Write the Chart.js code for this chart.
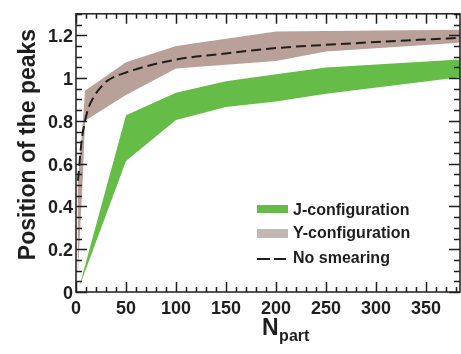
<!DOCTYPE html>
<html>
<head>
<meta charset="utf-8">
<script src="https://cdn.jsdelivr.net/npm/chart.js@4.4.1/dist/chart.umd.min.js"></script>
<style>
  html, body { margin: 0; padding: 0; background: #fff; }
  #wrap { width: 461px; height: 354px; }
</style>
</head>
<body>
<div id="wrap"><canvas id="c" width="461" height="354"></canvas></div>
<script>
// ---- data ----
const yCfgX     = [1.5, 7, 9, 50, 100, 200, 250, 384];
const yCfgUpper = [0.50, 0.80, 0.94, 1.074, 1.149, 1.217, 1.22, 1.225];
const yCfgLower = [0.05, 0.55, 0.80, 0.921, 1.044, 1.079, 1.124, 1.165];

const jCfgX     = [3, 50, 100, 150, 200, 250, 384];
const jCfgUpper = [0.02, 0.826, 0.931, 0.985, 1.017, 1.049, 1.086];
const jCfgLower = [0.02, 0.612, 0.804, 0.865, 0.89, 0.926, 1.004];

const noSmearX = [2, 5, 7, 12, 19, 25, 32, 50, 100, 150, 200, 250, 300, 384];
const noSmearY = [0.52, 0.68, 0.75, 0.853, 0.921, 0.958, 0.989, 1.026, 1.086, 1.115, 1.14, 1.155, 1.168, 1.188];

const xTickLabels = [0, 50, 100, 150, 200, 250, 300, 350];
const yTickLabels = [0, 0.2, 0.4, 0.6, 0.8, 1, 1.2];

const legendLabels = ['J-configuration', 'Y-configuration', 'No smearing'];
const xTitleMain = 'N';
const xTitleSub = 'part';
const yTitle = 'Position of the peaks';

const GREEN = '#65bc46';
const BROWN = '#b9a19a';
const BROWN_LEG = '#c3b7b1';
const INK = '#1e1e1e';
const FONT = "'Liberation Sans', Arial, Helvetica, sans-serif";

const pts = (xs, ys) => xs.map((x, i) => ({ x: x, y: ys[i] }));

const framePlugin = {
  id: 'frame',
  afterDraw(chart) {
    const ctx = chart.ctx;
    const a = chart.chartArea;
    const xs = chart.scales.x, ys = chart.scales.y;
    ctx.save();
    ctx.strokeStyle = INK;
    ctx.lineWidth = 1.5;
    ctx.strokeRect(a.left, a.top, a.right - a.left, a.bottom - a.top);
    ctx.beginPath();
    for (let v = 0; v <= xs.max + 0.001; v += 10) {
      const px = Math.round(xs.getPixelForValue(v)) + 0.5;
      const len = (v % 50 === 0) ? 10 : 5;
      ctx.moveTo(px, a.bottom); ctx.lineTo(px, a.bottom - len);
      ctx.moveTo(px, a.top); ctx.lineTo(px, a.top + len);
    }
    for (let k = 0; k * 0.05 <= ys.max + 0.0001; k++) {
      const v = k * 0.05;
      const py = Math.round(ys.getPixelForValue(v)) + 0.5;
      const len = (k % 4 === 0) ? 11 : 6;
      ctx.moveTo(a.left, py); ctx.lineTo(a.left + len, py);
      ctx.moveTo(a.right, py); ctx.lineTo(a.right - len, py);
    }
    ctx.stroke();

    // legend
    ctx.fillStyle = GREEN;
    ctx.fillRect(257, 205, 31, 8);
    ctx.fillStyle = BROWN_LEG;
    ctx.fillRect(257, 229, 31, 9);
    ctx.strokeStyle = INK;
    ctx.lineWidth = 2;
    ctx.beginPath();
    ctx.moveTo(257, 259); ctx.lineTo(270, 259);
    ctx.moveTo(274, 259); ctx.lineTo(286, 259);
    ctx.stroke();
    ctx.fillStyle = INK;
    ctx.font = 'bold 16px ' + FONT;
    ctx.textAlign = 'left';
    ctx.textBaseline = 'middle';
    ctx.fillText(legendLabels[0], 293, 211);
    ctx.fillText(legendLabels[1], 293, 234);
    ctx.fillText(legendLabels[2], 293, 259);

    // axis titles
    ctx.textBaseline = 'alphabetic';
    ctx.font = 'bold 23px ' + FONT;
    ctx.fillText(xTitleMain, 262, 335);
    const wN = ctx.measureText(xTitleMain).width;
    ctx.font = 'bold 16px ' + FONT;
    ctx.fillText(xTitleSub, 262 + wN + 0.5, 341);

    ctx.save();
    ctx.translate(35, 144.5);
    ctx.rotate(-Math.PI / 2);
    ctx.textAlign = 'center';
    ctx.font = 'bold 23px ' + FONT;
    ctx.fillText(yTitle, 0, 0);
    ctx.restore();
    ctx.restore();
  }
};

new Chart(document.getElementById('c'), {
  type: 'line',
  data: {
    datasets: [
      {
        label: legendLabels[2],
        data: pts(noSmearX, noSmearY),
        borderColor: INK, borderWidth: 2, borderDash: [10, 5],
        pointRadius: 0, fill: false, cubicInterpolationMode: 'monotone'
      },
      {
        label: legendLabels[1] + ' upper',
        data: pts(yCfgX, yCfgUpper),
        borderWidth: 0, borderColor: 'rgba(0,0,0,0)', backgroundColor: BROWN,
        pointRadius: 0, fill: '+1', tension: 0
      },
      {
        label: legendLabels[1] + ' lower',
        data: pts(yCfgX, yCfgLower),
        borderWidth: 0, borderColor: 'rgba(0,0,0,0)',
        pointRadius: 0, fill: false, tension: 0
      },
      {
        label: legendLabels[0] + ' upper',
        data: pts(jCfgX, jCfgUpper),
        borderWidth: 0, borderColor: 'rgba(0,0,0,0)', backgroundColor: GREEN,
        pointRadius: 0, fill: '+1', tension: 0
      },
      {
        label: legendLabels[0] + ' lower',
        data: pts(jCfgX, jCfgLower),
        borderWidth: 0, borderColor: 'rgba(0,0,0,0)',
        pointRadius: 0, fill: false, tension: 0
      }
    ]
  },
  options: {
    responsive: false,
    devicePixelRatio: 1,
    animation: false,
    layout: { padding: { top: 3, right: 1, left: 0, bottom: 0 } },
    plugins: { legend: { display: false }, tooltip: { enabled: false } },
    scales: {
      x: {
        type: 'linear', min: 0, max: 384,
        grid: { display: false, drawTicks: false },
        border: { display: false },
        afterBuildTicks: s => { s.ticks = xTickLabels.map(v => ({ value: v })); },
        afterFit: s => { s.height = 62; },
        ticks: { color: INK, padding: 6, maxRotation: 0, autoSkip: false,
                 font: { family: FONT, size: 18, weight: 'bold' } }
      },
      y: {
        type: 'linear', min: 0, max: 1.3,
        grid: { display: false, drawTicks: false },
        border: { display: false },
        afterBuildTicks: s => { s.ticks = yTickLabels.map(v => ({ value: v })); },
        afterFit: s => { s.width = 76; },
        ticks: { color: INK, padding: 3, labelOffset: 2, autoSkip: false,
                 font: { family: FONT, size: 18, weight: 'bold' },
                 callback: v => String(v) }
      }
    }
  },
  plugins: [framePlugin]
});
</script>
</body>
</html>
